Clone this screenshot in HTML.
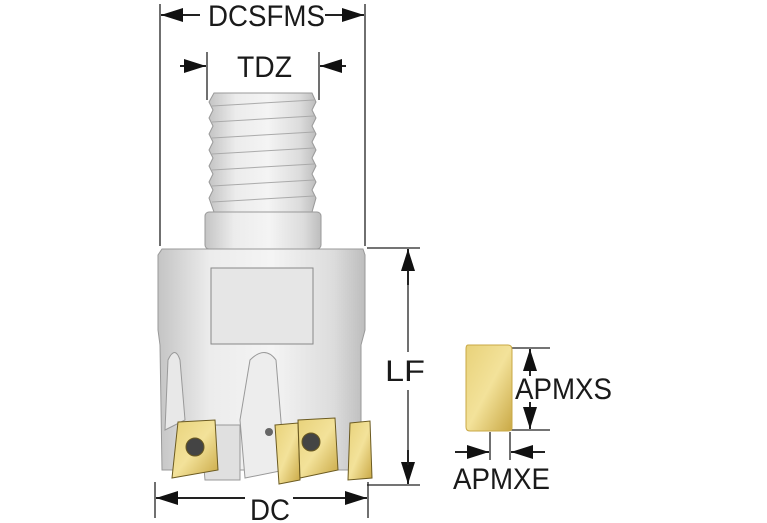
<!DOCTYPE html>
<html><head><meta charset="utf-8"><style>
html,body{margin:0;padding:0;background:#fff;width:767px;height:523px;overflow:hidden}
text{font-family:"Liberation Sans",sans-serif;font-size:30px;fill:#1a1a1a}
</style></head><body>
<svg width="767" height="523" viewBox="0 0 767 523" xmlns="http://www.w3.org/2000/svg">
<defs>
<linearGradient id="m" x1="0" x2="1" y1="0" y2="0">
<stop offset="0" stop-color="#c4c4c4"/><stop offset="0.25" stop-color="#ececec"/><stop offset="0.55" stop-color="#f4f4f4"/><stop offset="0.85" stop-color="#dcdcdc"/><stop offset="1" stop-color="#bdbdbd"/>
</linearGradient>
<linearGradient id="g" x1="0" x2="1" y1="0" y2="1">
<stop offset="0" stop-color="#e8d27a"/><stop offset="0.5" stop-color="#f3e29a"/><stop offset="1" stop-color="#c9a845"/>
</linearGradient>
<marker id="a" markerWidth="22" markerHeight="14" refX="22" refY="7" orient="auto" markerUnits="userSpaceOnUse"><path d="M0,0 L22,7 L0,14 z" fill="#111"/></marker>
</defs>
<g stroke="#222" stroke-width="1.3" fill="none">
<line x1="160" y1="4" x2="160" y2="246"/><line x1="365" y1="4" x2="365" y2="246"/>
<line x1="200" y1="15" x2="161" y2="15" marker-end="url(#a)" stroke-width="2"/>
<line x1="325" y1="15" x2="364" y2="15" marker-end="url(#a)" stroke-width="2"/>
<line x1="207" y1="52" x2="207" y2="100"/><line x1="319" y1="52" x2="319" y2="100"/>
<line x1="180" y1="66" x2="206" y2="66" marker-end="url(#a)" stroke-width="2"/>
<line x1="346" y1="66" x2="320" y2="66" marker-end="url(#a)" stroke-width="2"/>
<line x1="367" y1="248" x2="420" y2="248"/><line x1="367" y1="485" x2="420" y2="485"/>
<line x1="408" y1="285" x2="408" y2="249" marker-end="url(#a)" stroke-width="2"/>
<line x1="408" y1="450" x2="408" y2="484" marker-end="url(#a)" stroke-width="2"/>
<line x1="408" y1="270" x2="408" y2="352"/><line x1="408" y1="390" x2="408" y2="465"/>
<line x1="155" y1="482" x2="155" y2="518"/><line x1="368" y1="482" x2="368" y2="518"/>
<line x1="245" y1="498" x2="156" y2="498" marker-end="url(#a)" stroke-width="2"/>
<line x1="293" y1="498" x2="367" y2="498" marker-end="url(#a)" stroke-width="2"/>
<line x1="510" y1="348" x2="550" y2="348"/><line x1="510" y1="430" x2="550" y2="430"/>
<line x1="530" y1="376" x2="530" y2="349" marker-end="url(#a)" stroke-width="2"/>
<line x1="530" y1="402" x2="530" y2="429" marker-end="url(#a)" stroke-width="2"/>
<line x1="490" y1="432" x2="490" y2="460"/><line x1="510" y1="432" x2="510" y2="460"/>
<line x1="455" y1="452" x2="489" y2="452" marker-end="url(#a)" stroke-width="2"/>
<line x1="545" y1="452" x2="511" y2="452" marker-end="url(#a)" stroke-width="2"/>
</g>
<g stroke="#999" stroke-width="1">
<path d="M214,93 L312,93 L316,102 L312,110 L316,118 L312,126 L316,134 L312,142 L316,150 L312,158 L316,166 L312,174 L316,182 L312,190 L316,198 L312,212 L214,212 L209,198 L213,190 L209,182 L213,174 L209,166 L213,158 L209,150 L213,142 L209,134 L213,126 L209,118 L213,110 L209,102 Z" fill="url(#m)"/>
<g stroke="#aaa"><line x1="212" y1="106" x2="314" y2="100"/><line x1="212" y1="122" x2="314" y2="116"/><line x1="212" y1="138" x2="314" y2="132"/><line x1="212" y1="154" x2="314" y2="148"/><line x1="212" y1="170" x2="314" y2="164"/><line x1="212" y1="186" x2="314" y2="180"/><line x1="212" y1="202" x2="314" y2="196"/></g>
<rect x="205" y="212" width="116" height="37" rx="4" fill="url(#m)"/>
<path d="M162,249 L363,249 L365,255 L365,330 L361,345 L361,470 L162,470 L160,345 L158,330 L158,255 Z" fill="url(#m)"/>
<rect x="211" y="268" width="102" height="76" fill="#e6e6e6" stroke="#888"/>
<path d="M200,425 L205,480 L240,480 L240,425 Z" fill="#e0e0e0"/>
<path d="M250,360 Q265,345 276,360 L285,470 L245,478 L240,420 Z" fill="#ededed" stroke="#999"/>
<path d="M168,360 Q175,345 180,360 L185,420 L165,430 Z" fill="#e8e8e8"/>
</g>
<g stroke="#6b5a20" stroke-width="1">
<path d="M178,422 L215,420 L218,470 L172,478 Z" fill="url(#g)"/>
<circle cx="195" cy="447" r="9" fill="#444"/>
<path d="M275,425 L298,423 L300,480 L279,484 Z" fill="url(#g)"/>
<path d="M298,420 L335,418 L338,470 L300,478 Z" fill="url(#g)"/>
<circle cx="311" cy="442" r="9" fill="#444"/>
<path d="M350,423 L370,421 L372,478 L348,480 Z" fill="url(#g)"/>
<path d="M468,345 L508,345 Q512,345 512,350 L512,428 Q512,431 508,431 L470,431 Q466,431 466,427 L466,349 Q466,345 468,345 Z" fill="url(#g)" stroke="#c9a845"/>
</g>
<circle cx="269" cy="432" r="4" fill="#666"/>
<text x="208" y="26" textLength="117" lengthAdjust="spacingAndGlyphs">DCSFMS</text>
<text x="237" y="77" textLength="55" lengthAdjust="spacingAndGlyphs">TDZ</text>
<text x="385" y="381" textLength="40" lengthAdjust="spacingAndGlyphs">LF</text>
<text x="250" y="520" textLength="40" lengthAdjust="spacingAndGlyphs">DC</text>
<text x="515" y="399" textLength="97" lengthAdjust="spacingAndGlyphs">APMXS</text>
<text x="453" y="489" textLength="97" lengthAdjust="spacingAndGlyphs">APMXE</text>
</svg>
</body></html>
